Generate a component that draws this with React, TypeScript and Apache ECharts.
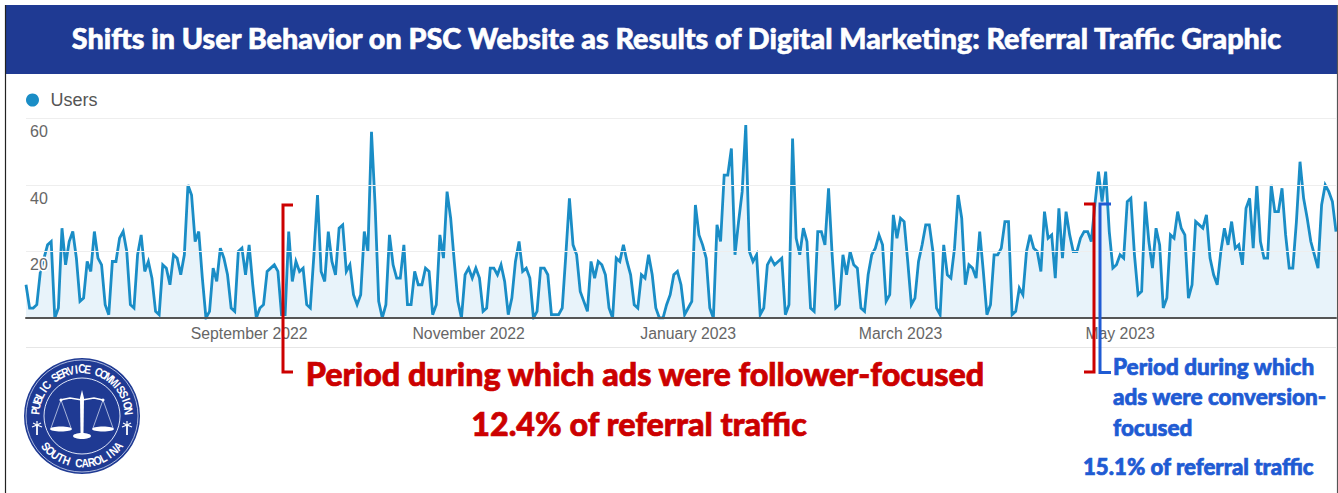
import React, { useEffect, useRef } from "react";
import * as echarts from "echarts";

const usersA = [10,3,3,4,14,18,22,23,0,3,27,16,23,26,18,5,6,17,14,26,18,16,4,1,17,17,24,26,20,4,3,19,25,14,17,12,2,1,16,15,10,19,18,13,19,40,37,23,26,12,0,2];
const usersB = [15,11,21,18,13,3,2,20,21,13,22,10,0,3,4,14,15,16,14,1,1,26,11,17,14,15,4,3,19,37,14,11,26,17,13,27,28,14,16,7,4,7,26,20,56,34,5,0,4,25];
const usersC = [16,12,12,22,4,4,14,10,10,15,14,1,4,25,18,38,30,17,5,0,13,15,12,15,12,2,3,15,15,13,16,11,1,6,17,23,14,15,12,0,2,15,15,13,1,1,1,3,19,36,22,19];
const usersD = [8,5,2,17,12,17,16,13,3,0,18,17,22,17,13,4,3,13,12,19,13,3,0,0,4,7,13,14,10,1,3,5,34,25,22,18,3,0,28,23,43,43,51,19,29,38,58,20,17,19,1,3];
const usersE = [16,18,16,17,18,1,4,54,24,19,27,23,3,2,26,26,22,39,19,3,4,19,13,20,16,15,3,2,13,19,21,25,22,5,7,31,24,30,29,17,4,6,17,22,28,28,20,3,1,22,13];
const usersF = [12,21,37,30,10,16,15,12,26,14,1,4,19,19,21,29,29,1,2,9,7,20,25,21,20,14,32,24,25,12,33,18,32,25,20,20,24,26,26,23,34,44,35,44,26,15,16,19,18,35,36,19,7,8];
const usersG = [35,23,15,27,22,3,6,25,24,32,27,25,6,10,29,28,27,31,18,13,10,20,27,22,29,21,22,16,33,36,21,40,23,18,18,40,32,32,39,25,15,15,29,47,36,30,23,19,15,34,40,38,35,26];
const users = [...usersA, ...usersB, ...usersC, ...usersD, ...usersE, ...usersF, ...usersG];

const monthLabels: Record<string, string> = {
  "2022-09-01": "September 2022",
  "2022-11-01": "November 2022",
  "2023-01-01": "January 2023",
  "2023-03-01": "March 2023",
  "2023-05-01": "May 2023",
};
const yTicks = [20, 40, 60];

const categories = users.map((_, i) =>
  new Date(Date.UTC(2022, 6, 1 + i)).toISOString().slice(0, 10)
);

const titleText = "Shifts in User Behavior on PSC Website as Results of Digital Marketing: Referral Traffic Graphic";
const RED = "#cc0000";
const BLUE = "#1f5bd3";
const NAVY = "#1f3a93";
const FONT = "Lato, 'Open Sans', sans-serif";

function bracket(points: number[][], color: string) {
  return { type: "polyline", shape: { points }, style: { stroke: color, lineWidth: 3, fill: "none" }, z: 20 };
}
function label(text: string, x: number, y: number, color: string, size: number, align = "left") {
  return {
    type: "text", x, y, z: 20,
    style: { text, fill: color, stroke: color, lineWidth: 0.7, font: `900 ${size}px ${FONT}`, align, verticalAlign: "middle" },
  };
}
function arcText(text: string, cx: number, cy: number, r: number, startDeg: number, endDeg: number, bottom: boolean) {
  const n = text.length;
  return text.split("").map((ch, i) => {
    const a = ((startDeg + ((endDeg - startDeg) * i) / (n - 1)) * Math.PI) / 180;
    return {
      type: "text",
      x: cx + r * Math.sin(a),
      y: bottom ? cy + r * Math.cos(a) : cy - r * Math.cos(a),
      rotation: bottom ? a : -a,
      scaleX: 0.85,
      z: 23,
      style: { text: ch, fill: "#fff", font: `700 12px 'Liberation Sans', sans-serif`, align: "center", verticalAlign: "middle" },
    };
  });
}
function palmetto(x: number, y: number) {
  const l = (x1: number, y1: number, x2: number, y2: number) => ({
    type: "line", z: 23, shape: { x1, y1, x2, y2 }, style: { stroke: "#fff", lineWidth: 1.2 },
  });
  return [
    { ...l(x, y - 2, x, y + 8), style: { stroke: "#fff", lineWidth: 1.8 } },
    l(x, y - 2, x - 5, y), l(x, y - 2, x + 5, y), l(x, y - 2, x - 4, y - 4),
    l(x, y - 2, x + 4, y - 4), l(x, y - 2, x, y - 6),
  ];
}
function logo() {
  const cx = 82, cy = 416;
  const thin = (x1: number, y1: number, x2: number, y2: number) => ({
    type: "line", z: 23, shape: { x1, y1, x2, y2 }, style: { stroke: "#dfe6f7", lineWidth: 0.7 },
  });
  const white = { fill: "#fff" };
  return [
    { type: "circle", z: 21, shape: { cx, cy, r: 58 }, style: { fill: NAVY } },
    { type: "circle", z: 22, shape: { cx, cy, r: 56 }, style: { fill: "none", stroke: "#cfd8f0", lineWidth: 0.8 } },
    { type: "circle", z: 22, shape: { cx, cy, r: 38 }, style: { fill: "none", stroke: "#dfe6f7", lineWidth: 1 } },
    ...arcText("PUBLIC SERVICE COMMISSION", cx, cy, 47, -84, 84, false),
    ...arcText("SOUTH CAROLINA", cx, cy, 47, -50, 50, true),
    ...palmetto(37, 427),
    ...palmetto(127, 427),
    { type: "polygon", z: 23, shape: { points: [[82, 390], [84, 398], [83.5, 433], [80.5, 433], [80, 398]] }, style: white },
    { type: "polyline", z: 23, shape: { points: [[60, 400], [70, 398], [82, 400], [94, 398], [103, 400]] }, style: { stroke: "#fff", lineWidth: 1.6, fill: "none" } },
    { type: "ellipse", z: 23, shape: { cx: 82, cy: 436, rx: 9, ry: 3 }, style: white },
    { type: "ellipse", z: 23, shape: { cx: 61, cy: 429, rx: 11, ry: 2.5 }, style: white },
    { type: "ellipse", z: 23, shape: { cx: 103, cy: 429, rx: 11, ry: 2.5 }, style: white },
    thin(61, 400, 51, 428), thin(61, 400, 71, 428),
    thin(103, 400, 93, 428), thin(103, 400, 113, 428),
    { type: "circle", z: 23, shape: { cx: 61, cy: 400, r: 1.5 }, style: white },
    { type: "circle", z: 23, shape: { cx: 103, cy: 400, r: 1.5 }, style: white },
  ];
}

export default function App() {
  const ref = useRef<HTMLDivElement>(null);
  useEffect(() => {
    document.body.style.margin = "0";
    document.body.style.overflow = "hidden";
    const chart = echarts.init(ref.current!, undefined, { renderer: "svg" });
    chart.setOption({
      animation: false,
      backgroundColor: "#fff",
      legend: {
        left: 21, top: 86, itemWidth: 26, itemHeight: 13, itemGap: 8,
        icon: "circle",
        textStyle: { fontFamily: "'Liberation Sans', Arial, sans-serif", fontSize: 18, color: "#555" },
        data: ["Users"],
      },
      grid: { left: 26, right: 2, top: 118.5, height: 199.5 },
      xAxis: {
        type: "category",
        boundaryGap: false,
        data: categories,
        z: 6,
        axisTick: { show: false },
        axisLine: { lineStyle: { color: "#555", width: 2 } },
        axisLabel: {
          interval: (i: number, v: string) => v in monthLabels,
          formatter: (v: string) => monthLabels[v] ?? "",
          margin: 7,
          color: "#666",
          fontSize: 15.8,
          fontFamily: "'Liberation Sans', Arial, sans-serif",
        },
        splitLine: { show: false },
      },
      yAxis: {
        type: "value",
        min: 0,
        max: 60,
        interval: 20,
        z: 5,
        axisLine: { show: false },
        axisTick: { show: false },
        splitLine: { lineStyle: { color: "#eeeeee", width: 1 } },
        axisLabel: {
          inside: true,
          margin: 4,
          verticalAlign: "top",
          padding: [5, 0, 0, 0],
          color: "#666",
          fontSize: 16,
          textBorderColor: "#fff",
          textBorderWidth: 3,
          fontFamily: "'Liberation Sans', Arial, sans-serif",
          formatter: (v: number) => (yTicks.includes(v) ? String(v) : ""),
        },
      },
      series: [
        {
          name: "Users",
          type: "line",
          data: users,
          symbol: "none",
          lineStyle: { color: "#1a8dc6", width: 2.8, join: "miter" },
          itemStyle: { color: "#1a8dc6" },
          areaStyle: { color: "#e8f3fa", opacity: 1 },
        },
      ],
      graphic: [
        { type: "rect", z: 30, shape: { x: 5, y: 5, width: 1332, height: 69 }, style: { fill: NAVY } },
        { type: "line", z: 30, shape: { x1: 5.5, y1: 5, x2: 5.5, y2: 493 }, style: { stroke: "#222", lineWidth: 1.2 } },
        { type: "line", z: 30, shape: { x1: 1337.5, y1: 5, x2: 1337.5, y2: 493 }, style: { stroke: "#555", lineWidth: 1.2 } },
        { type: "line", z: 1, shape: { x1: 26, y1: 347.5, x2: 1336, y2: 347.5 }, style: { stroke: "#e6e6e6", lineWidth: 1 } },
        {
          type: "text", x: 676.5, y: 38, z: 31,
          style: { text: titleText, fill: "#fff", stroke: "#fff", lineWidth: 0.6, font: `900 28.7px ${FONT}`, align: "center", verticalAlign: "middle" },
        },
        bracket([[293, 205], [283, 205], [283, 372], [293, 372]], RED),
        bracket([[1084, 204], [1094, 204], [1094, 372], [1084, 372]], RED),
        bracket([[1111, 204], [1100, 204], [1100, 372.5], [1111, 372.5]], BLUE),
        label("Period during which ads were follower-focused", 645, 373, RED, 32.3, "center"),
        label("12.4% of referral traffic", 639, 423, RED, 32.3, "center"),
        label("Period during which", 1113, 366, BLUE, 22.5),
        label("ads were conversion-", 1113, 396, BLUE, 22.5),
        label("focused", 1113, 427, BLUE, 22.5),
        label("15.1% of referral traffic", 1083, 466, BLUE, 22.2),
        ...logo(),
      ],
    });
    return () => chart.dispose();
  }, []);
  return <div ref={ref} style={{ width: 1338, height: 493 }} />;
}
